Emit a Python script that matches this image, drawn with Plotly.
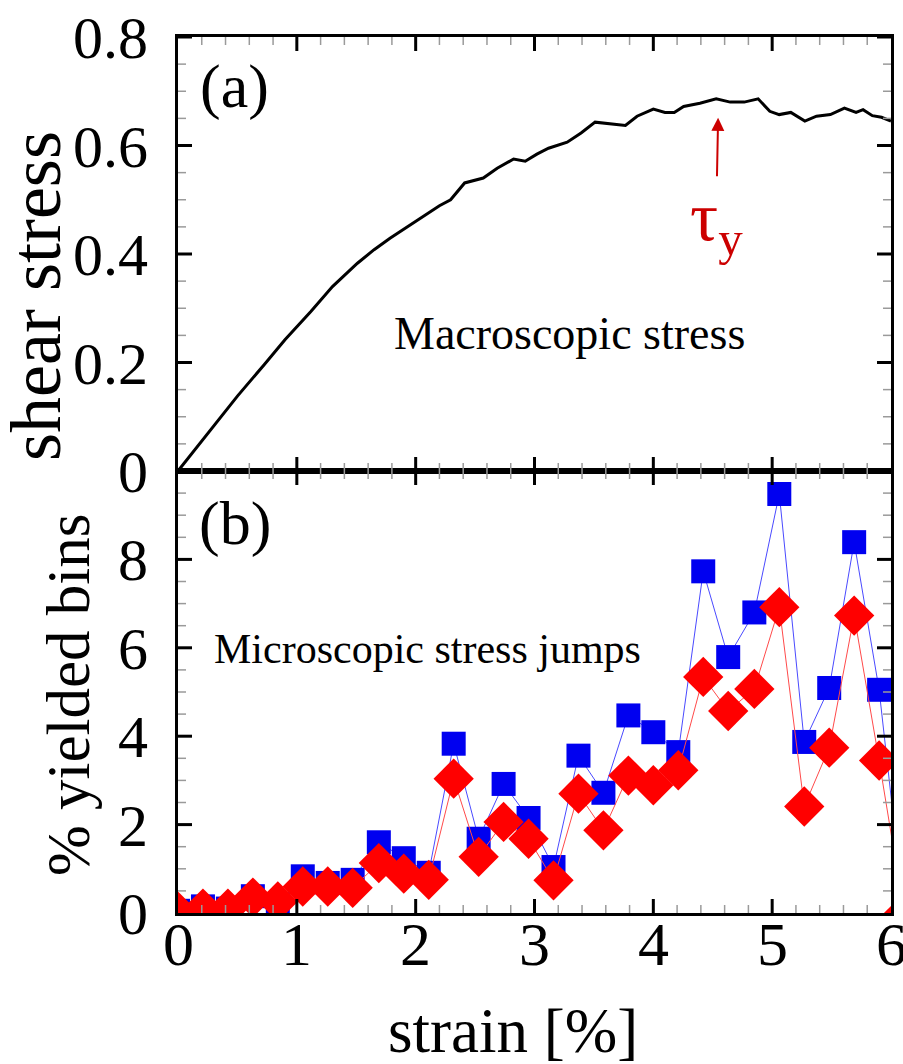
import plotly.graph_objects as go

# ---------------- data ----------------
stress_strain = [0.0, 0.15, 0.33, 0.5, 0.725, 0.9, 1.118, 1.3, 1.51, 1.65, 1.784, 1.95, 2.098, 2.2, 2.294,
                 2.36, 2.412, 2.569, 2.686, 2.824, 2.922, 3.02, 3.118, 3.275, 3.392, 3.51, 3.627, 3.765,
                 3.863, 4.0, 4.098, 4.176, 4.255, 4.392, 4.529, 4.647, 4.765, 4.882, 4.98, 5.059, 5.157,
                 5.275, 5.373, 5.49, 5.608, 5.706, 5.765, 5.843, 5.92, 6.0]
stress_value = [0.0, 0.042, 0.091, 0.138, 0.196, 0.242, 0.294, 0.34, 0.383, 0.408, 0.429, 0.453, 0.475, 0.489,
                0.5, 0.518, 0.531, 0.54, 0.558, 0.575, 0.571, 0.584, 0.595, 0.606, 0.623, 0.643, 0.640, 0.637,
                0.654, 0.667, 0.661, 0.661, 0.672, 0.678, 0.686, 0.680, 0.680, 0.686, 0.663, 0.657, 0.661,
                0.645, 0.654, 0.657, 0.669, 0.661, 0.666, 0.655, 0.652, 0.645]

jump_strain = [0.0, 0.21, 0.42, 0.63, 0.84, 1.05, 1.26, 1.47, 1.69, 1.90, 2.11, 2.32, 2.53, 2.74, 2.95,
               3.16, 3.37, 3.58, 3.79, 4.00, 4.21, 4.42, 4.63, 4.85, 5.06, 5.27, 5.48, 5.69, 5.90, 6.11]
blue_pct = [0.05, 0.15, 0.10, 0.38, 0.19, 0.83, 0.68, 0.75, 1.60, 1.24, 0.91, 3.83, 1.68, 2.92, 2.15,
            1.04, 3.56, 2.72, 4.47, 4.09, 3.64, 7.73, 5.79, 6.80, 9.48, 3.87, 5.09, 8.39, 5.05, 0.0]
red_pct = [0.03, 0.10, 0.10, 0.35, 0.26, 0.60, 0.60, 0.57, 1.13, 0.89, 0.75, 3.04, 1.27, 2.06, 1.68,
           0.74, 2.70, 1.87, 3.11, 2.89, 3.23, 5.34, 4.57, 5.07, 6.92, 2.41, 3.74, 6.73, 3.45, 0.0]

top_yticks = [0, 0.2, 0.4, 0.6, 0.8]
top_yticktext = ["0", "0.2", "0.4", "0.6", "0.8"]
bot_yticks = [0, 2, 4, 6, 8]
bot_yticktext = ["0", "2", "4", "6", "8"]
xticks = [0, 1, 2, 3, 4, 5, 6]
xticktext = ["0", "1", "2", "3", "4", "5", "6"]
x_minor_step, top_minor_step, bot_minor_step = 0.2, 0.05, 0.5

# ---------------- layout geometry (pixels) ----------------
W, H = 903, 1064
L, R, T, B = 178, 891, 37, 913
PW, PH = R - L, B - T
split = 471

def px(x):
    return (x - L) / PW

def py(y):
    return (B - y) / PH

FONT = "Liberation Serif"

fig = go.Figure()

fig.add_trace(go.Scatter(x=stress_strain, y=stress_value, mode="lines",
                         line=dict(color="black", width=3), xaxis="x", yaxis="y",
                         showlegend=False))

fig.add_trace(go.Scatter(x=jump_strain, y=blue_pct, mode="lines+markers",
                         line=dict(color="#4a4aff", width=1),
                         marker=dict(symbol="square", size=24, color="#0000f0",
                                     line=dict(width=0)),
                         xaxis="x2", yaxis="y2", showlegend=False))
fig.add_trace(go.Scatter(x=jump_strain, y=red_pct, mode="lines+markers",
                         line=dict(color="#ff4a4a", width=1),
                         marker=dict(symbol="diamond", size=31, color="#ff0000",
                                     line=dict(width=0)),
                         xaxis="x2", yaxis="y2", showlegend=False))


def axis(**kw):
    d = dict(showline=True, linewidth=3, linecolor="black", mirror=True,
             ticks="", showgrid=False, zeroline=False, automargin=False,
             tickfont=dict(family=FONT, size=60, color="black"))
    d.update(kw)
    return d

split_dom = (B - split) / PH

fig.update_layout(
    width=W, height=H,
    margin=dict(l=L, r=W - R, t=T, b=H - B, pad=0),
    paper_bgcolor="white", plot_bgcolor="white",
    xaxis=axis(range=[0, 6], tickvals=xticks, showticklabels=False, anchor="y"),
    yaxis=axis(range=[0, 0.8], tickvals=top_yticks,
               ticktext=[t + " " for t in top_yticktext],
               domain=[split_dom, 1], anchor="x"),
    xaxis2=axis(range=[0, 6], tickvals=xticks, showticklabels=False, anchor="y2"),
    yaxis2=axis(range=[0, 10], tickvals=bot_yticks, ticktext=[t + " " for t in bot_yticktext],
                domain=[0, split_dom], anchor="x2"),
)

# ---------------- tick marks (inside, on all four sides of each panel) ----------------
MAJ = dict(len=14, width=3, color="black")
MIN = dict(len=8, width=1.5, color="#9a9a9a")


def minor_vals(lo, hi, step, majors):
    n = int(round((hi - lo) / step))
    vals = [round(lo + i * step, 4) for i in range(n + 1)]
    return [v for v in vals if all(abs(v - m) > 1e-6 for m in majors) and lo < v < hi]

shapes = []

def xtick(v, xref, ydom, style):
    for anchor, sign in ((0, 1), (1, -1)):
        shapes.append(dict(type="line", xref=xref, yref=ydom, x0=v, x1=v,
                           ysizemode="pixel", yanchor=anchor, y0=0, y1=sign * style["len"],
                           line=dict(color=style["color"], width=style["width"]), layer="above"))

def ytick(v, yref, xdom, style):
    for anchor, sign in ((0, 1), (1, -1)):
        shapes.append(dict(type="line", xref=xdom, yref=yref, y0=v, y1=v,
                           xsizemode="pixel", xanchor=anchor, x0=0, x1=sign * style["len"],
                           line=dict(color=style["color"], width=style["width"]), layer="above"))

for xref, ydom in (("x", "y domain"), ("x2", "y2 domain")):
    for v in minor_vals(0, 6, x_minor_step, xticks):
        xtick(v, xref, ydom, MIN)
    for v in xticks[1:-1]:
        xtick(v, xref, ydom, MAJ)

for v in minor_vals(0, 0.8, top_minor_step, top_yticks):
    ytick(v, "y", "x domain", MIN)
for v in top_yticks[1:]:
    ytick(v, "y", "x domain", MAJ)
for v in minor_vals(0, 10, bot_minor_step, bot_yticks):
    ytick(v, "y2", "x2 domain", MIN)
for v in bot_yticks[1:]:
    ytick(v, "y2", "x2 domain", MAJ)

fig.update_layout(shapes=shapes)

# ---------------- x tick labels ----------------
for v, t in zip(xticks, xticktext):
    fig.add_annotation(xref="x2", yref="paper", x=v, y=py(944), text=t, showarrow=False,
                       xanchor="center", yanchor="middle",
                       font=dict(family=FONT, size=62, color="black"))


def txt(x, y, s, size, color="black", angle=0, fam=FONT):
    fig.add_annotation(xref="paper", yref="paper", x=px(x), y=py(y), text=s,
                       showarrow=False, textangle=angle, xanchor="center", yanchor="middle",
                       font=dict(family=fam, size=size, color=color))

txt(234, 87, "(a)", 62)
txt(235, 523, "(b)", 62)
txt(569, 333, "Macroscopic stress", 46)
txt(427, 649, "Microscopic stress jumps", 42)
txt(36, 296, "shear stress", 72, angle=-90)
txt(68, 695, "% yielded bins", 61, angle=-90)
txt(513, 1031, "strain [%]", 63)

# tau_y arrow annotation (tip at yield point)
fig.add_annotation(xref="x", yref="y", x=4.545, y=0.651, text="τ<sub>y</sub>",
                   showarrow=True, axref="pixel", ayref="pixel", ax=-2, ay=104,
                   arrowhead=2, arrowsize=1.3, arrowwidth=2, arrowcolor="#cc0000",
                   standoff=0, startstandoff=0,
                   font=dict(family=FONT, size=70, color="#cc0000"))

fig.write_html("out.html")
